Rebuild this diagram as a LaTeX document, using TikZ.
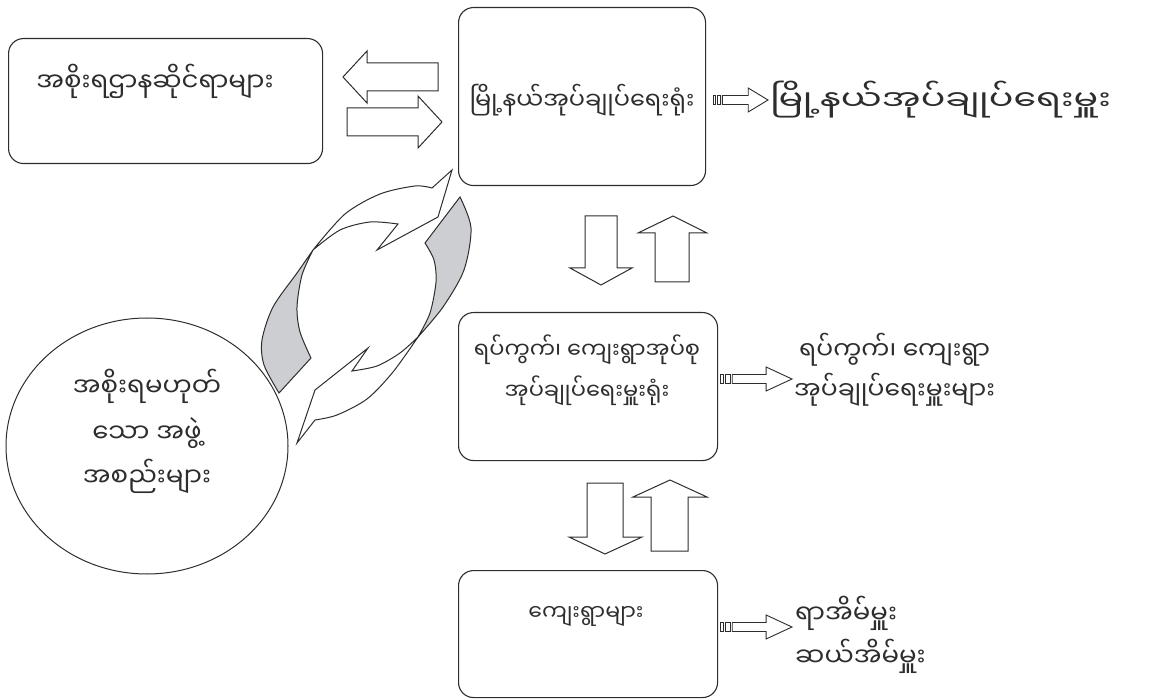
\documentclass[tikz,border=0pt]{standalone}
\usepackage{fontspec}
\newfontfamily\mm[Script=Myanmar]{Noto Sans Myanmar UI}
\usetikzlibrary{shapes.geometric}
\definecolor{ink}{RGB}{45,45,45}
\definecolor{greyfill}{RGB}{205,206,209}
\begin{document}
\begin{tikzpicture}[x=1pt,y=-1pt,
  box/.style={draw=ink, line width=1.1pt, rounded corners=15pt, anchor=north west, inner sep=0pt},
  txt/.style={font=\mm\fontsize{#1}{#1}\selectfont, text=ink, inner sep=0pt},
  txt/.default=23,
  blk/.style={draw=ink, fill=white, line width=1pt, line join=miter},
  band/.style={draw=ink, line width=1pt, line join=miter},
]
\useasboundingbox (0,0) rectangle (1170,700);

% boxes
\node[box, minimum width=314pt, minimum height=125pt] (b1) at (8,38) {};
\node[box, minimum width=247pt, minimum height=178pt] (b2) at (458,7) {};
\node[box, minimum width=259pt, minimum height=148pt] (b3) at (458,312) {};
\node[box, minimum width=259pt, minimum height=127pt] (b4) at (458,570) {};
\node[draw=ink, line width=1pt, ellipse, minimum width=282pt, minimum height=256pt, inner sep=0pt] (ng) at (147,446) {};

% texts
\node[txt=26] (t1) at (155,81) {အစိုးရဌာနဆိုင်ရာများ};
\node[txt=24] (t2) at (582,100) {မြို့နယ်အုပ်ချုပ်ရေးရုံး};
\node[txt=22.5] (t3a) at (587,350) {ရပ်ကွက်၊ ကျေးရွာအုပ်စု};
\node[txt=22.5] (t3b) at (587,391) {အုပ်ချုပ်ရေးမှူးရုံး};
\node[txt=22] (t4) at (586,616) {ကျေးရွာများ};
\node[txt=26] (e1) at (147,386) {အစိုးရမဟုတ်};
\node[txt=26] (e2) at (147,433) {သော အဖွဲ့};
\node[txt=26] (e3) at (147,476) {အစည်းများ};
\node[txt=28, anchor=west] (r1) at (770,100) {\scalebox{1.3}[1]{မြို့နယ်အုပ်ချုပ်ရေးမှူး}};
\node[txt=25, anchor=west] (r2a) at (799,350) {ရပ်ကွက်၊ ကျေးရွာ};
\node[txt=25, anchor=west] (r2b) at (794,390) {အုပ်ချုပ်ရေးမှူးများ};
\node[txt=26, anchor=west] (r3a) at (795,613) {ရာအိမ်မှူး};
\node[txt=26, anchor=west] (r3b) at (795,656) {ဆယ်အိမ်မှူး};

% block arrows between box 1 and box 2
\draw[blk] (343,77) -- (367,51) -- (367,63) -- (438,63) -- (438,91) -- (367,91) -- (367,103) -- cycle;
\draw[blk] (347,108) -- (418,108) -- (418,96) -- (442,122) -- (418,148) -- (418,136) -- (347,136) -- cycle;

% block arrows between box 2 and box 3
\draw[blk] (585,216) -- (617,216) -- (617,268) -- (632,268) -- (601,285) -- (570,268) -- (585,268) -- cycle;
\draw[blk] (655,282) -- (689,282) -- (689,233) -- (707,233) -- (673,216) -- (638,233) -- (655,233) -- cycle;

% block arrows between box 3 and box 4
\draw[blk] (587,483) -- (623,483) -- (623,537) -- (642,537) -- (605,554) -- (569,537) -- (587,537) -- cycle;
\draw[blk] (651,551) -- (688,551) -- (688,497) -- (707,497) -- (670,480) -- (633,497) -- (651,497) -- cycle;

% striped arrows
\newcommand\stripearrow[3]{% x0, x1, y
  \pgfmathsetmacro\La{#2-#1}
  \draw[blk, line width=0.9pt] (#1,#3-4.5) rectangle ({#1+0.05*\La},#3+4.5);
  \draw[blk, line width=0.9pt] ({#1+0.08*\La},#3-4.5) rectangle ({#1+0.14*\La},#3+4.5);
  \draw[blk, line width=0.9pt] ({#1+0.17*\La},#3-4.5) -- ({#1+0.64*\La},#3-4.5) -- ({#1+0.64*\La},#3-12) -- (#2,#3) -- ({#1+0.64*\La},#3+12) -- ({#1+0.64*\La},#3+4.5) -- ({#1+0.17*\La},#3+4.5) -- cycle;
}
\stripearrow{713}{768}{100}
\stripearrow{720}{792}{379}
\stripearrow{720}{792}{627}

% circular arrows
\fill[greyfill] plot[smooth] coordinates {(279,393) (264,365) (262,340) (273,307) (297,273) (313,250)} -- plot[smooth] coordinates {(313,250) (302,275) (297,307) (300,332) (311,358)} -- cycle;
\draw[band] plot[smooth] coordinates {(279,393) (264,365) (262,340) (273,307) (297,273) (313,250)} -- plot[smooth] coordinates {(313,250) (302,275) (297,307) (300,332) (311,358)} -- cycle;
\draw[band, fill=white] plot[smooth] coordinates {(313,250) (345,214) (380,194) (415,186) (432,188)} -- (452,170) -- (438,217) -- (377,250) -- (398,224) -- plot[smooth] coordinates {(398,224) (370,222) (340,230) (313,250)} -- cycle;

\fill[greyfill] plot[smooth] coordinates {(460,197) (471,228) (464,270) (443,307) (418,337)} -- plot[smooth] coordinates {(418,337) (430,313) (436,282) (434,260) (425,243)} -- cycle;
\draw[band] plot[smooth] coordinates {(460,197) (471,228) (464,270) (443,307) (418,337)} -- plot[smooth] coordinates {(418,337) (430,313) (436,282) (434,260) (425,243)} -- cycle;
\draw[band, fill=white] plot[smooth] coordinates {(418,337) (393,372) (367,399) (337,415) (315,420)} -- (297,443) -- (315,390) -- (368,348) -- (352,371) -- plot[smooth] coordinates {(352,371) (377,366) (400,353) (418,337)} -- cycle;
\end{tikzpicture}
\end{document}
